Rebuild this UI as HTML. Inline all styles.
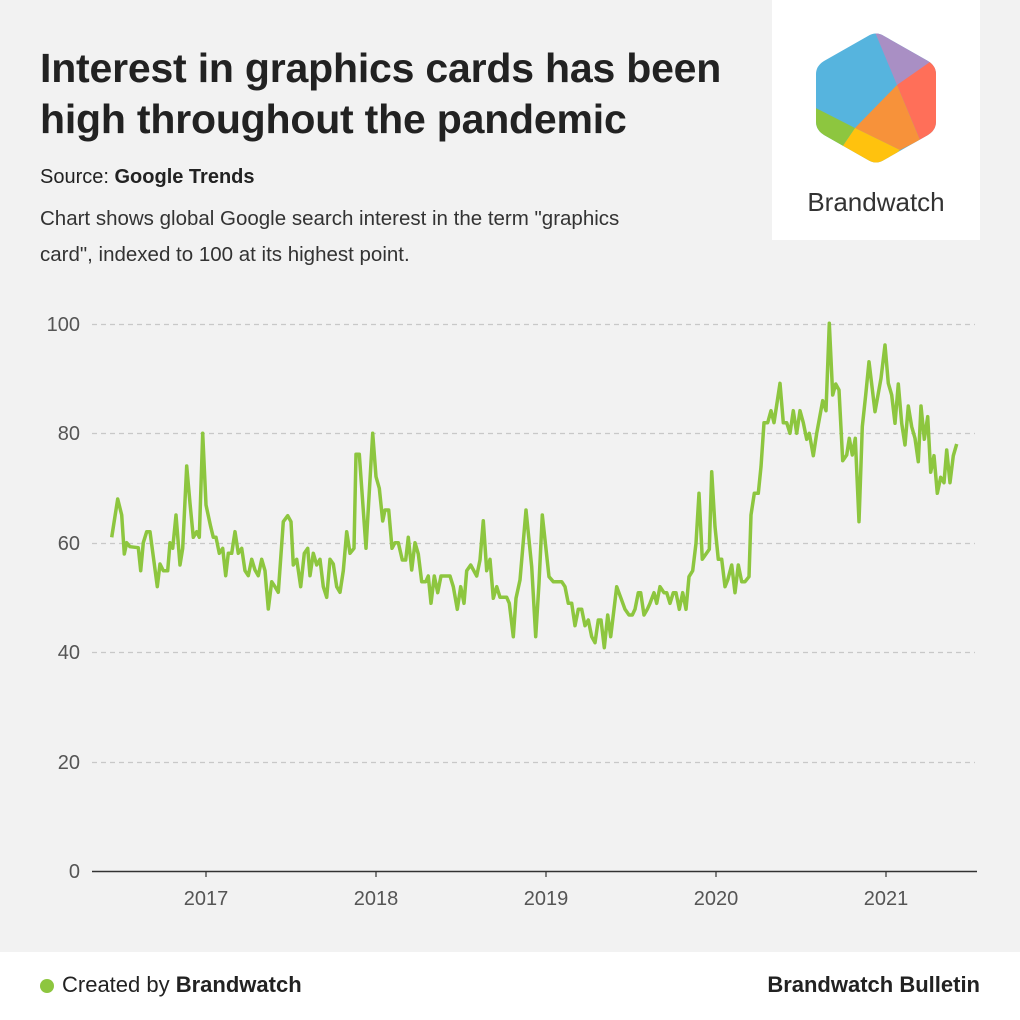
<!DOCTYPE html>
<html><head><meta charset="utf-8"><style>
body{margin:0;width:1020px;height:1020px;background:#f2f2f2;font-family:"Liberation Sans",Arial,sans-serif;position:relative;overflow:hidden}
.t{position:absolute;left:40px;top:43px;font-size:41px;font-weight:bold;color:#222;line-height:51px;letter-spacing:-0.2px}
.s{position:absolute;left:40px;top:166px;font-size:20px;color:#222}
.d{position:absolute;left:40px;top:201px;font-size:20.5px;color:#333;line-height:36px;width:620px}
.logo{position:absolute;left:772px;top:0;width:208px;height:240px;background:#fff}
.foot{position:absolute;left:0;top:952px;width:1020px;height:68px;background:#fff;font-size:22px;color:#222}
</style></head><body>
<div class="t">Interest in graphics cards has been<br>high throughout the pandemic</div>
<div class="s">Source: <b>Google Trends</b></div>
<div class="d">Chart shows global Google search interest in the term "graphics card", indexed to 100 at its highest point.</div>
<div class="logo">
<svg width="208" height="240" viewBox="772 0 208 240">
<defs><clipPath id="h"><path d="M868,36 Q876,31 884,36 L928,61 Q936,66 936,74 L936,122 Q936,130 928,135 L884,160 Q876,165 868,160 L824,135 Q816,130 816,122 L816,74 Q816,66 824,61 Z"/></clipPath></defs>
<g clip-path="url(#h)">
<rect x="810" y="25" width="130" height="145" fill="#56b4de"/>
<polygon points="872,25 940,25 940,62 897,85" fill="#a98fc4"/>
<polygon points="897,85 940,55 940,170 920,140" fill="#ff6f59"/>
<polygon points="897,85 920,140 900,150 855,128" fill="#f7923a"/>
<polygon points="855,128 900,150 880,170 840,150" fill="#ffc20e"/>
<polygon points="810,105 855,128 840,150 810,140" fill="#8dc63f"/>
</g>
<text x="876" y="211" text-anchor="middle" font-family="Liberation Sans, sans-serif" font-size="26" fill="#333">Brandwatch</text>
</svg></div>
<svg style="position:absolute;left:0;top:0" width="1020" height="950">
<g stroke="#c8c8c8" stroke-width="1.3" stroke-dasharray="5,4">
<line x1="92" x2="975" y1="324.5" y2="324.5"/><line x1="92" x2="975" y1="433.5" y2="433.5"/><line x1="92" x2="975" y1="543.5" y2="543.5"/><line x1="92" x2="975" y1="652.5" y2="652.5"/><line x1="92" x2="975" y1="762.5" y2="762.5"/>
</g>
<line x1="92" x2="977" y1="871.5" y2="871.5" stroke="#333" stroke-width="1.5"/>
<g stroke="#333" stroke-width="1.2"><line x1="206" x2="206" y1="871" y2="877"/><line x1="376" x2="376" y1="871" y2="877"/><line x1="546" x2="546" y1="871" y2="877"/><line x1="716" x2="716" y1="871" y2="877"/><line x1="886" x2="886" y1="871" y2="877"/></g>
<g font-size="20" fill="#555" text-anchor="end" font-family="Liberation Sans, sans-serif">
<text x="80" y="331">100</text><text x="80" y="440">80</text><text x="80" y="550">60</text><text x="80" y="659">40</text><text x="80" y="769">20</text><text x="80" y="878">0</text></g>
<g font-size="20" fill="#555" text-anchor="middle" font-family="Liberation Sans, sans-serif">
<text x="206" y="905">2017</text><text x="376" y="905">2018</text><text x="546" y="905">2019</text><text x="716" y="905">2020</text><text x="886" y="905">2021</text></g>
<polyline fill="none" stroke="#8dc63f" stroke-width="3.5" stroke-linejoin="round" points="111.7,537.3 117.7,499 121.7,515 124.3,554 126.7,542.7 130,546.7 138.3,547.7 140.7,570.7 143.3,542.7 146.7,531.7 150,531.7 157.3,586.7 160,564 163.3,570.7 167.7,570.7 170,542.7 172.7,548.3 176,515 180,565 182.7,548.3 186.7,466 190,503.3 193.3,537.3 196.7,531.7 199.3,537.3 202.7,433.3 206,505 210.7,526.7 213.3,537.3 216,537.3 219.3,553.3 222.7,548.3 225.7,575.7 228.3,553.3 231.7,553.3 235,531.7 238.3,553.3 241.7,548.3 245,570.7 248.3,575.7 251.7,559.3 255,570 258.3,575.7 261.7,559.3 265,570.7 268.3,609 271.7,581.7 275,586.7 278.3,592.3 283.3,521.7 287.7,515.7 291,521.7 293.3,565 296.7,559.3 300.7,586.7 304.3,553.3 307.7,548.3 310,575.7 313.3,553.3 316.7,565 320,559.3 323.3,586.7 326.7,597.3 330,559.3 333.3,564 336.7,586.7 340,592.3 343.3,570.7 346.7,531.7 350,553.3 354,548.3 356,454.3 359.3,454.3 366,548.3 372.7,433.3 376,476.7 379.3,488.3 382.7,521 385,510 388.7,510 392,548.3 395,542.7 398.3,542.7 402.3,560 405.7,560 408.3,537.3 411.7,570 415,542.7 418.3,554 421.7,581.7 425.7,581.7 428.3,576 431,603.3 434.3,576 437.7,592.7 441,576 450,576 453.3,586.7 457.3,609.3 460.7,586.7 464,603.3 466.7,570.7 470.7,565 476.7,576 480,560 483.3,520.7 486.7,570.7 490,559.3 493.3,598.3 496.7,586.7 500,597.3 506.7,597.3 509.3,603.3 513.3,636.7 516,598.3 520,580 526,510 531.7,566.7 535.7,636.7 539,583.3 542.3,515 549,576.7 553.3,581.7 561.7,581.7 565,586.7 568.3,603.3 571.7,603.3 575,625.7 578.3,609.3 581.7,609.3 585,625.7 588.3,620 591.7,636.7 595,642.7 598.3,620 601,620 604.3,647.7 607.7,615 610.7,636.7 616.7,586.7 621,598.3 625,609.3 629,615 632.3,615 635,609.3 638.3,592.7 640.7,592.7 644,615 647.3,609.3 650,603.3 654,592.7 656.7,603.3 660,586.7 664,592.7 666.7,592.7 670,603.3 673.3,592.7 676,592.7 679.3,609.3 682.7,592.7 686,609.3 689,576.7 692.7,570.7 696,543.3 699,493.3 702.3,559.3 709.3,549.3 711.7,471.7 715,526.7 718.3,559.3 721.7,559.3 725,586.7 727.7,580 731.7,565 735,592.7 738.3,565 741.7,581.7 745,581.7 749,576.7 751,515 754.3,493.3 758.3,493.3 761,466.7 764,422.7 767.7,422.7 771,410.7 774,422.7 780,383.3 783.3,422.7 786.7,422.7 790,433.3 793.3,410.7 796.7,433.3 800,410.7 803.3,422.7 806.7,439.3 809.3,433.3 813.3,455.7 816.7,433.3 822.7,400.7 826,410.7 829.3,323.3 832.7,395 835.7,384 839,390 842.7,460.7 846.7,455 849.3,438.3 852.3,455 855.3,438.3 859,521.7 862.3,426.7 865.7,395 869,361.7 875,411.7 881,378.3 885,345 888.3,383.3 891.7,395 895,423.3 898.3,384 901.7,423.3 905,445 908.3,406 911.7,426.7 915,438.3 918.3,461.7 921,406 924.3,439.3 927.7,416.7 930.7,472.3 934,455.7 937.3,493.3 940.7,477.3 944,482.7 946.7,450 950,482.7 953.3,455.7 956.7,444"/>
</svg>
<div class="foot">
<span style="position:absolute;left:40px;top:27px;width:14px;height:14px;border-radius:50%;background:#8dc63f"></span>
<span style="position:absolute;left:62px;top:20px">Created by <b>Brandwatch</b></span>
<span style="position:absolute;right:40px;top:20px;font-weight:bold">Brandwatch Bulletin</span>
</div>
</body></html>
